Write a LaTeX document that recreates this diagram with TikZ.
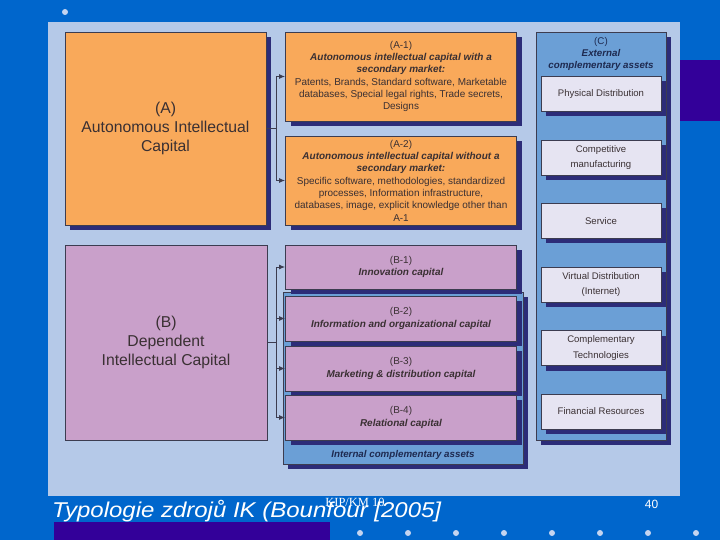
\documentclass[tikz,border=0pt]{standalone}
\usepackage{fontspec}
\setmainfont{Liberation Sans}
\newfontfamily\serifnote{Liberation Serif}
\newfontfamily\titlefont[FakeStretch=1.12]{Liberation Sans}
\usetikzlibrary{arrows.meta,positioning,shadows}
\definecolor{slideblue}{HTML}{0066CC}
\definecolor{panelblue}{HTML}{B5C9E8}
\definecolor{indigo}{HTML}{330099}
\definecolor{dotblue}{HTML}{C4D4F0}
\definecolor{autoorange}{HTML}{F9A95A}
\definecolor{deppink}{HTML}{C9A0CA}
\definecolor{assetblue}{HTML}{6B9FD6}
\definecolor{assetbox}{HTML}{E6E4F2}
\definecolor{shade}{HTML}{2C2C78}
\definecolor{inktext}{HTML}{3A3033}
\definecolor{navytext}{HTML}{1E2A50}
\definecolor{edge}{HTML}{3C3C50}
\newcommand{\kind}[1]{{\bfseries\itshape #1}}
\tikzset{
  >={Latex[length=6bp,width=5bp]},
  shadowed/.style={drop shadow={shadow xshift=5bp, shadow yshift=-5bp, fill=shade, opacity=1}},
  bigbox/.style={draw=edge, line width=0.8bp, align=center, text=inktext, font=\fontsize{15.8}{19}\selectfont, inner sep=0},
  subbox/.style={draw=edge, line width=0.8bp, align=center, text=inktext, font=\fontsize{10}{12.4}\selectfont, minimum width=231bp, inner sep=0, shadowed},
  extbox/.style={draw=edge, fill=assetbox, line width=0.8bp, align=center, text=inktext, font=\fontsize{9.6}{16}\selectfont, minimum width=120bp, minimum height=35bp, inner sep=0, shadowed},
  group/.style={draw=edge, fill=assetblue, line width=0.8bp, inner sep=0, shadowed},
  grouplabel/.style={align=center, text=navytext, font=\fontsize{9.8}{11.8}\selectfont, inner sep=0},
  link/.style={->, draw=edge, line width=1bp},
}
\begin{document}
\begin{tikzpicture}[x=1bp, y=-1bp]
  \useasboundingbox (0,0) rectangle (720,540);
  % slide background
  \fill[slideblue] (0,0) rectangle (720,540);
  \fill[panelblue] (48,22) rectangle (680,496);
  \fill[indigo] (680,60) rectangle (720,121);
  \fill[indigo] (54,522) rectangle (330,540);
  \fill[dotblue] (65,12) circle (3);
  \foreach \dx in {360,408,...,700}
    \fill[dotblue] (\dx,533) circle (3);

  % (A) autonomous
  \node[bigbox, fill=autoorange, shadowed, minimum width=201bp, minimum height=193bp] (A) at (165.5,128.5) {(A)\\Autonomous Intellectual\\Capital};
  \node[subbox, fill=autoorange, minimum height=89bp] (A1) at (401,76.5) {(A-1)\\\kind{Autonomous intellectual capital with a}\\\kind{secondary market:}\\Patents, Brands, Standard software, Marketable\\databases, Special legal rights, Trade secrets,\\Designs};
  \node[subbox, fill=autoorange, minimum height=89bp] (A2) at (401,180.5) {(A-2)\\\kind{Autonomous intellectual capital without a}\\\kind{secondary market:}\\Specific software, methodologies, standardized\\processes, Information infrastructure,\\databases, image, explicit knowledge other than\\A-1};

  % (B) dependent
  \node[bigbox, fill=deppink, minimum width=202bp, minimum height=195bp] (B) at (166,342.5) {(B)\\Dependent\\Intellectual Capital};
  \node[group, minimum width=240bp, minimum height=172bp] (inner) at (403,378) {};
  \node[grouplabel] (innerlabel) at (403,455) {\kind{Internal complementary assets}};
  \node[subbox, fill=deppink, minimum height=45bp] (B2) at (401,318.5) {(B-2)\\\kind{Information and organizational capital}};
  \node[subbox, fill=deppink, minimum height=45bp] (B3) at (401,368.5) {(B-3)\\\kind{Marketing \& distribution capital}};
  \node[subbox, fill=deppink, minimum height=45bp] (B4) at (401,417.5) {(B-4)\\\kind{Relational capital}};
  \node[subbox, fill=deppink, minimum height=44bp] (B1) at (401,267) {(B-1)\\\kind{Innovation capital}};

  % (C) external
  \node[group, minimum width=130bp, minimum height=408bp] (C) at (601,236) {};
  \node[grouplabel] (Clabel) at (601,54) {(C)\\\kind{External}\\\kind{complementary assets}};
  \node[extbox] (phys) at (601,94) {Physical Distribution};
  \node[extbox] (manuf) at (601,157.5) {Competitive\\manufacturing};
  \node[extbox] (service) at (601,221) {Service};
  \node[extbox] (virtual) at (601,284.5) {Virtual Distribution\\(Internet)};
  \node[extbox] (tech) at (601,348) {Complementary\\Technologies};
  \node[extbox] (finance) at (601,411.5) {Financial Resources};

  % connectors
  \draw[link] (A.east) -- ++(10,0) coordinate (aj) |- (A1.west);
  \draw[link] (aj) |- (A2.west);
  \draw[link] (B.east) -- ++(9,0) coordinate (bj) |- (B1.west);
  \draw[link] (bj) |- (B2.west);
  \draw[link] (bj) |- (B3.west);
  \draw[link] (bj) |- (B4.west);

  % footer
  \node[anchor=base west, text=white, inner sep=0, font=\titlefont\fontsize{21.5}{21.5}\selectfont\itshape] (title) at (52,517) {Typologie zdrojů IK (Bounfour [2005]};
  \node[text=white, inner sep=0, font=\serifnote\fontsize{12.5}{12.5}\selectfont] (tag) at (355,502) {KIP/KM 10};
  \node[text=white, inner sep=0, font=\fontsize{12}{12}\selectfont] (page) at (651.5,504.5) {40};
\end{tikzpicture}
\end{document}
